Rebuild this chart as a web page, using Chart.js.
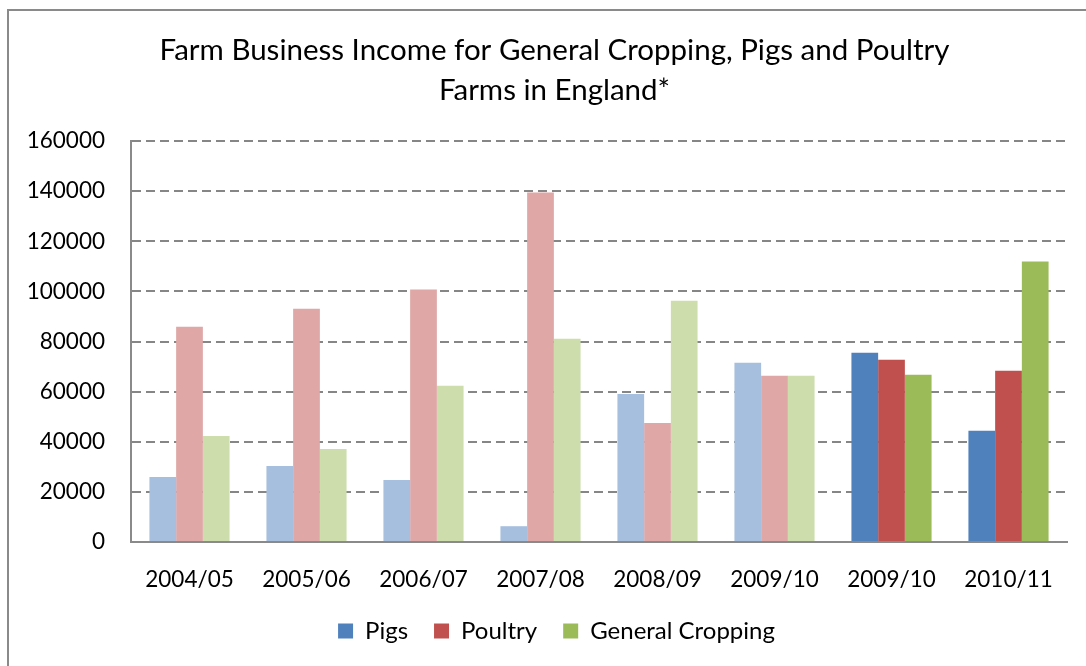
<!DOCTYPE html>
<html>
<head>
<meta charset="utf-8">
<script src="https://cdn.jsdelivr.net/npm/chart.js@4"></script>
<style>
html,body{margin:0;padding:0;background:#fff;overflow:hidden;}
#wrap{position:absolute;left:0;top:0;width:1086px;height:666px;}
</style>
</head>
<body>
<div id="wrap"><canvas id="c" width="1086" height="666"></canvas></div>
<script>
const categories = ['2004/05','2005/06','2006/07','2007/08','2008/09','2009/10','2009/10','2010/11'];
const pigs = [25900, 30300, 24700, 6300, 59100, 71500, 75500, 44400];
const poultry = [85900, 93100, 100700, 139500, 47500, 66300, 72700, 68300];
const cropping = [42300, 37100, 62300, 81100, 96300, 66300, 66700, 111900];
const seriesNames = ['Pigs', 'Poultry', 'General Cropping'];
const yTicks = [0, 20000, 40000, 60000, 80000, 100000, 120000, 140000, 160000];
const titleLines = ['Farm Business Income for General Cropping, Pigs and Poultry', 'Farms in England*'];

const fullColors = ['#4F81BD', '#C0504D', '#9BBB59'];
const fadedColors = ['#A7BFDE', '#DFA7A6', '#CDDDAC'];
const fadedCount = 6;
function colorsFor(i) {
  return categories.map((_, k) => k < fadedCount ? fadedColors[i] : fullColors[i]);
}

const frame = {
  id: 'frame',
  beforeDraw(chart) {
    const ctx = chart.ctx;
    ctx.save();
    ctx.strokeStyle = '#8a8a8a';
    ctx.lineWidth = 2;
    ctx.beginPath();
    ctx.moveTo(8, 666);
    ctx.lineTo(8, 10);
    ctx.lineTo(1086, 10);
    ctx.stroke();
    ctx.restore();
  }
};

// shift title and legend so they centre on the outer frame rather than the plot
const centreShift = {
  id: 'centreShift',
  afterLayout(chart) {
    if (chart.titleBlock) { chart.titleBlock.left += 21; chart.titleBlock.right += 21; }
    if (chart.legend) { chart.legend.left += 23; chart.legend.right += 23; }
  }
};

const FONT = 'Lato, "Liberation Sans", sans-serif';

new Chart(document.getElementById('c'), {
  type: 'bar',
  data: {
    labels: categories,
    datasets: [pigs, poultry, cropping].map((d, i) => ({
      label: seriesNames[i],
      data: d,
      backgroundColor: colorsFor(i),
      borderWidth: 0,
      barPercentage: 1,
      categoryPercentage: 0.685
    }))
  },
  plugins: [frame, centreShift],
  options: {
    responsive: false,
    animation: false,
    layout: { padding: { left: 0, right: 19, top: 0, bottom: 13 } },
    plugins: {
      title: {
        display: true,
        text: titleLines,
        color: '#000',
        font: { family: FONT, size: 29.5, weight: 'normal', lineHeight: 1.356 },
        padding: { top: 30, bottom: 31 }
      },
      legend: {
        position: 'bottom',
        labels: {
          color: '#000',
          font: { family: FONT, size: 24 },
          boxWidth: 15,
          boxHeight: 15,
          padding: 26,
          generateLabels(chart) {
            const items = Chart.defaults.plugins.legend.labels.generateLabels(chart);
            items.forEach((it, i) => { it.fillStyle = fullColors[i]; it.strokeStyle = fullColors[i]; it.lineWidth = 0; });
            return items;
          }
        }
      },
      tooltip: { enabled: false }
    },
    scales: {
      x: {
        grid: { display: false },
        border: { display: true, color: '#8a8a8a', width: 2 },
        ticks: { color: '#000', font: { family: FONT, size: 22.5 }, padding: 16, maxRotation: 0 },
        afterFit(s) { s.height = 51; }
      },
      y: {
        min: 0,
        max: 160000,
        afterBuildTicks(s) { s.ticks = yTicks.map(v => ({ value: v })); },
        grid: { color: '#868686', lineWidth: 2, drawTicks: false },
        border: { display: true, color: '#8a8a8a', width: 2, dash: [9, 5] },
        ticks: { color: '#000', font: { family: FONT, size: 22.5 }, padding: 26, callback: v => String(v) },
        afterFit(s) { s.width = 131; }
      }
    }
  }
});
</script>
</body>
</html>
